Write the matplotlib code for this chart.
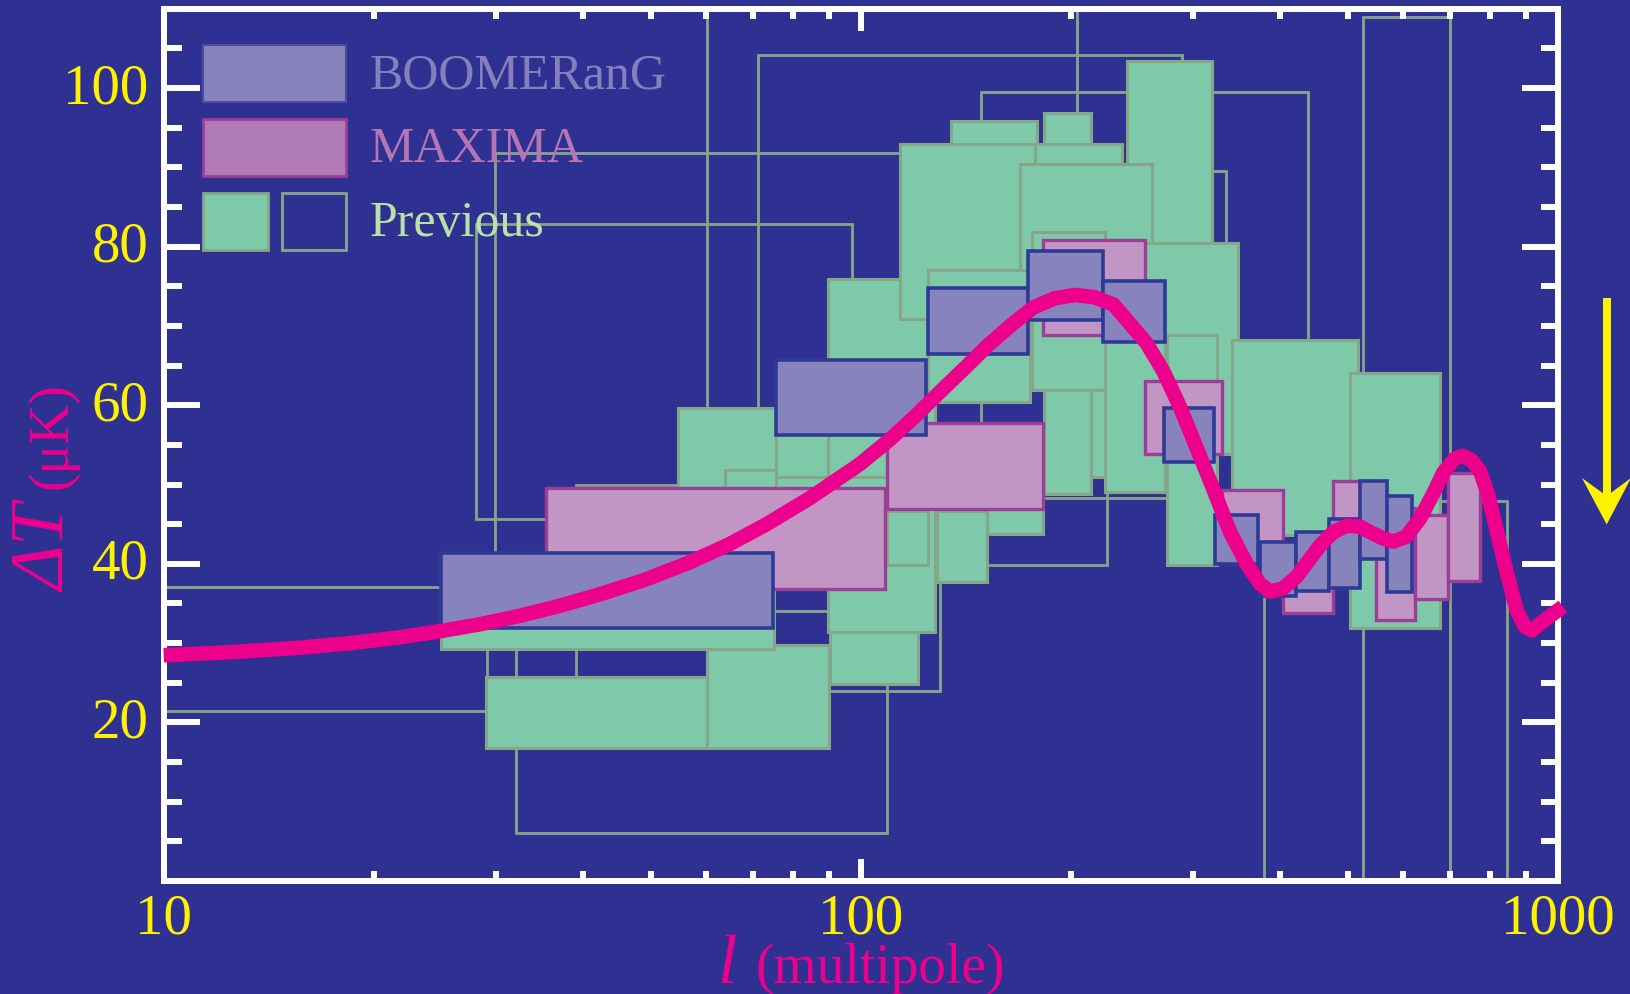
import matplotlib
matplotlib.use("Agg")
import matplotlib.pyplot as plt
from matplotlib.patches import Patch, Polygon
from matplotlib.legend_handler import HandlerTuple
from matplotlib.ticker import FixedLocator, NullFormatter

plt.rcParams['font.family'] = ['Liberation Serif', 'DejaVu Serif']

BG = '#2E3192'
MAG = '#EC008C'
YEL = '#FFF200'
GREEN = '#7EC9AA'
GREEN_EDGE = '#86A68A'
BOOM_FILL = '#8784BD'
BOOM_EDGE = '#2E3A96'
MAX_FILL = '#C196C4'
MAX_EDGE = '#9C3E98'

# BOOMERanG band powers: multipole range and 1-sigma Delta T range (uK)
boom_l_lo = [25.0, 75.5, 124.7, 174.0, 222.9, 272.7, 322.7, 373.4, 420.7, 470.0, 520.5, 568.6]
boom_l_hi = [74.8, 124.1, 174.0, 222.9, 273.3, 321.6, 371.5, 420.7, 469.8, 520.5, 568.6, 618.7]
boom_dt_lo = [31.9, 56.2, 66.4, 70.7, 68.0, 52.8, 40.0, 36.0, 36.6, 36.9, 40.6, 36.4]
boom_dt_hi = [41.3, 65.7, 74.8, 79.4, 75.7, 59.6, 46.1, 42.8, 44.0, 45.6, 50.5, 48.6]

# MAXIMA band powers
max_l_lo = [35.4, 109.0, 182.6, 255.8, 329.7, 403.0, 476.0, 549.0, 624.0, 697.0]
max_l_hi = [108.4, 182.4, 255.8, 330.3, 404.0, 476.0, 549.0, 624.0, 697.0, 774.0]
max_dt_lo = [36.8, 46.9, 68.8, 53.9, 41.0, 33.8, 41.0, 32.9, 35.6, 37.8]
max_dt_hi = [49.6, 57.8, 80.8, 63.1, 49.3, 40.0, 50.4, 47.0, 46.1, 51.5]

# earlier experiments, detections (filled), in drawing order
prev_l_lo = [75.6, 89.9, 54.7, 63.9, 75.6, 241.3, 134.6, 183.2, 213.8, 178.0, 113.9, 169.3, 125.0,
             176.0, 255.8, 224.1, 274.8, 340.8, 503.6, 90.5, 60.1, 25.0, 29.0, 128.5, 109.0, 151.6]
prev_l_hi = [109.0, 127.8, 75.6, 75.6, 109.0, 319.5, 179.2, 213.8, 224.1, 236.9, 177.8, 262.0, 175.0,
             224.1, 348.3, 273.3, 324.2, 516.6, 677.7, 120.7, 90.2, 75.1, 60.1, 151.6, 125.0, 182.8]
prev_dt_lo = [42.0, 31.4, 45.0, 45.0, 45.0, 74.0, 80.0, 48.8, 50.9, 75.0, 70.9, 68.5, 60.4,
              61.9, 53.9, 49.0, 39.8, 43.6, 31.9, 24.9, 16.8, 29.2, 16.8, 37.7, 39.9, 43.8]
prev_dt_hi = [62.0, 75.9, 59.6, 51.8, 50.9, 103.4, 95.9, 96.9, 64.0, 92.9, 92.9, 90.4, 77.0,
              81.8, 80.4, 72.0, 68.8, 68.2, 64.0, 31.4, 29.8, 38.0, 25.7, 46.7, 46.7, 52.0]

# earlier experiments, weak constraints (open boxes)
open_l_lo = [5.0, 28.1, 29.9, 32.0, 39.0, 60.1, 71.2, 67.1, 138.8, 148.7, 287.1, 378.9, 526.1]
open_l_hi = [29.1, 97.1, 121.7, 109.0, 71.7, 204.1, 289.3, 130.0, 225.8, 438.7, 334.0, 845.2, 700.8]
open_dt_lo = [21.5, 45.7, 38.1, 6.05, 20.5, 54.5, 52.0, 24.0, 39.8, 48.3, 60.0, -5.0, -5.0]
open_dt_hi = [37.1, 82.8, 91.8, 34.0, 49.9, 120.0, 104.1, 43.2, 55.8, 99.5, 89.5, 47.9, 109.0]

# model spectrum
curve_l = [10, 12.45, 15.69, 18.51, 21.83, 24.91, 28.44, 32.45, 37.03, 42.27, 49.04, 56.9,
           64.9, 73.3, 84.6, 99.8, 110.2, 119.7, 130, 141.1, 151.6, 163.8, 176.7, 190, 203,
           216.9, 230.4, 242.7, 257.2, 271.7, 287.1, 303.4, 320.6, 338.8, 357.9, 373.9, 386.5,
           403.6, 422.2, 456, 476.4, 498.1, 520.4, 538, 561.5, 580.9, 605.8, 634.5, 662.3,
           685.3, 712.2, 732, 753.6, 773.6, 794.3, 818.5, 845, 873.5, 897.4, 918.7, 964.3, 1017.6]
curve_dt = [28.47, 28.85, 29.42, 29.99, 30.74, 31.5, 32.38, 33.45, 34.71, 36.16, 37.99, 40.2,
            42.5, 45.0, 48.3, 52.6, 55.7, 58.6, 61.7, 64.7, 67.4, 70.0, 72.3, 73.5, 73.9,
            73.6, 72.7, 70.4, 67.8, 64.3, 59.8, 54.6, 49.4, 44.0, 40.0, 37.5, 36.5,
            36.9, 38.4, 42.3, 44.0, 44.8, 44.7, 44.0, 43.2, 42.8, 43.4, 45.7, 48.8,
            51.5, 53.3, 53.6, 53.0, 51.7, 48.8, 44.0, 38.9, 34.1, 32.1, 31.6, 33.1, 34.6]

W, H = 1631, 995
fig = plt.figure(figsize=(W / 100, H / 100), dpi=100, facecolor=BG)
ax = fig.add_axes([163.7 / W, 1 - 882 / H, 1394 / W, 872.3 / H])
ax.set_facecolor(BG)
ax.set_xscale('log')
ax.set_xlim(10, 1000)
ax.set_ylim(0, 110)


def boxes(lo, hi, dlo, dhi, **kw):
    widths = [b - a for a, b in zip(lo, hi)]
    heights = [b - a for a, b in zip(dlo, dhi)]
    return ax.bar(lo, heights, width=widths, bottom=dlo, align='edge', **kw)


boxes(open_l_lo, open_l_hi, open_dt_lo, open_dt_hi, fill=False, edgecolor=GREEN_EDGE, linewidth=2.0)
boxes(prev_l_lo, prev_l_hi, prev_dt_lo, prev_dt_hi, facecolor=GREEN, edgecolor=GREEN_EDGE, linewidth=2.2)
boxes(max_l_lo, max_l_hi, max_dt_lo, max_dt_hi, facecolor=MAX_FILL, edgecolor=MAX_EDGE, linewidth=2.4)
boxes(boom_l_lo, boom_l_hi, boom_dt_lo, boom_dt_hi, facecolor=BOOM_FILL, edgecolor=BOOM_EDGE, linewidth=2.6)

ax.plot(curve_l, curve_dt, color=MAG, lw=10.5, solid_joinstyle='round', solid_capstyle='butt',
        clip_on=False, zorder=6)

# frame and ticks
for sp in ax.spines.values():
    sp.set_color('white')
    sp.set_linewidth(4.3)
ax.set_xticks([10, 100, 1000], labels=['10', '100', '1000'])
ax.xaxis.set_minor_formatter(NullFormatter())
ax.yaxis.set_major_locator(FixedLocator([20, 40, 60, 80, 100]))
ax.yaxis.set_minor_locator(FixedLocator([v for v in range(5, 110, 5) if v % 20]))
ax.tick_params(which='both', direction='in', color='white', width=4.3,
               top=True, right=True, labelcolor=YEL, labelsize=41)
ax.tick_params(axis='x', which='major', length=15.8, pad=8)
ax.tick_params(axis='x', which='minor', length=7.4)
ax.tick_params(axis='y', which='major', length=25.9, pad=11)
ax.tick_params(axis='y', which='minor', length=12.6)
for lab in ax.get_yticklabels():
    lab.set_verticalalignment('center')

# axis titles
fig.text(717 / W, 1 - 983 / H, 'l', style='italic', size=50, color=MAG, ha='left', va='baseline')
fig.text(756 / W, 1 - 983 / H, '(multipole)', size=40, color=MAG, ha='left', va='baseline')
fig.text(66 / W, 1 - 592 / H, 'ΔT', style='italic', size=55, color=MAG, rotation=90,
         rotation_mode='anchor', ha='left', va='baseline')
fig.text(66 / W, 1 - 489 / H, '(μK)', size=40, color=MAG, rotation=90,
         rotation_mode='anchor', ha='left', va='baseline')

# legend
h_boom = Patch(facecolor='#8882BC', edgecolor='#4A4C9E', linewidth=1.5)
h_max = Patch(facecolor='#B07BB4', edgecolor=MAX_EDGE, linewidth=2)
h_fill = Patch(facecolor=GREEN, edgecolor=GREEN_EDGE, linewidth=2)
h_open = Patch(facecolor='none', edgecolor=GREEN_EDGE, linewidth=2)
leg = ax.legend([h_boom, h_max, (h_fill, h_open)], ['BOOMERanG', 'MAXIMA', 'Previous'],
                handler_map={tuple: HandlerTuple(ndivide=None, pad=0.28)},
                loc='upper left', bbox_to_anchor=(0.0282, 0.9587), borderaxespad=0, borderpad=0,
                frameon=False, fontsize=36, handlelength=2.86, handleheight=1.395,
                handletextpad=0.47, labelspacing=0.33,
                labelcolor=['#8580BD', '#B575B5', '#B8E2A8'])
for t in leg.get_texts():
    t.set_y(3)

# arrow at the right margin
sx = 1606.7
fig.add_artist(plt.Line2D([sx / W, sx / W], [1 - 299 / H, 1 - 500 / H], color=YEL, lw=5.8,
                          solid_capstyle='butt'))
head = [(sx, 525.5), (1582, 479), (sx, 497), (1631, 479)]
fig.add_artist(Polygon([(x / W, 1 - y / H) for x, y in head], closed=True,
                       facecolor=YEL, edgecolor='none', transform=fig.transFigure))

fig.savefig('out.png', dpi=100, facecolor=BG)
